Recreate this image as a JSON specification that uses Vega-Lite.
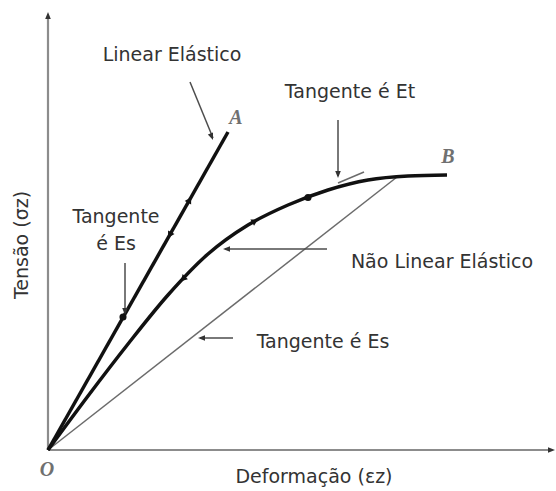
{
  "$schema": "https://vega.github.io/schema/vega-lite/v6.json",
  "width": 508,
  "height": 450,
  "autosize": "none",
  "padding": {"left": 48, "top": 0, "right": 0, "bottom": 41},
  "background": "white",
  "config": {"view": {"stroke": null}},
  "encoding": {
    "x": {"field": "x", "type": "quantitative", "scale": {"domain": [0, 508], "nice": false, "zero": false}, "axis": null},
    "y": {"field": "y", "type": "quantitative", "scale": {"domain": [0, 450], "nice": false, "zero": false}, "axis": null}
  },
  "layer": [
    {
      "data": {"values": [
        {"x": 0, "y": 0, "x2": 349, "y2": 273},
        {"x": 290, "y": 267, "x2": 316, "y2": 278}
      ]},
      "mark": {"type": "rule", "color": "#6b6b6b", "strokeWidth": 1.5},
      "encoding": {"x2": {"field": "x2"}, "y2": {"field": "y2"}}
    },
    {
      "data": {"values": [
        {"x": 0, "y": 0, "x2": 0, "y2": 434},
        {"x": 0, "y": 0, "x2": 502, "y2": 0}
      ]},
      "mark": {"type": "rule", "color": "#8c8c8c", "strokeWidth": 2.2},
      "encoding": {"x2": {"field": "x2"}, "y2": {"field": "y2"}}
    },
    {
      "data": {"values": [
        {"x": 142, "y": 368, "x2": 165, "y2": 312},
        {"x": 290, "y": 330, "x2": 290, "y2": 274},
        {"x": 77, "y": 187, "x2": 77, "y2": 137},
        {"x": 279, "y": 201, "x2": 177, "y2": 201},
        {"x": 185, "y": 112, "x2": 152, "y2": 112}
      ]},
      "mark": {"type": "rule", "color": "#4d4d4d", "strokeWidth": 1.5},
      "encoding": {"x2": {"field": "x2"}, "y2": {"field": "y2"}}
    },
    {
      "data": {"values": [
        {"x": 0, "y": 0, "x2": 180, "y2": 318}
      ]},
      "mark": {"type": "rule", "color": "#111111", "strokeWidth": 3.5},
      "encoding": {"x2": {"field": "x2"}, "y2": {"field": "y2"}}
    },
    {
      "data": {"values": [
        {"x": 0, "y": 0},
        {"x": 40, "y": 54},
        {"x": 80, "y": 106},
        {"x": 120, "y": 155},
        {"x": 160, "y": 196},
        {"x": 200, "y": 225},
        {"x": 240, "y": 245},
        {"x": 280, "y": 260},
        {"x": 320, "y": 270},
        {"x": 360, "y": 274},
        {"x": 399, "y": 275}
      ]},
      "mark": {"type": "line", "color": "#111111", "strokeWidth": 3.5, "interpolate": "monotone"},
      "encoding": {"order": {"field": "x", "type": "quantitative"}}
    },
    {
      "data": {"values": [
        {"x": 165, "y": 310, "bearing": 158.4},
        {"x": 290, "y": 272, "bearing": 180},
        {"x": 77, "y": 135, "bearing": 180},
        {"x": 175, "y": 201, "bearing": 270},
        {"x": 150, "y": 112, "bearing": 270},
        {"x": 0, "y": 438, "bearing": 0},
        {"x": 507, "y": 0, "bearing": 90}
      ]},
      "mark": {"type": "point", "shape": "M0,0L-0.8,2L0.8,2Z", "filled": true, "opacity": 1, "color": "#333333", "size": 49},
      "encoding": {"angle": {"field": "bearing", "type": "quantitative", "scale": null}}
    },
    {
      "data": {"values": [
        {"x": 141.5, "y": 250, "bearing": 29.5},
        {"x": 121.7, "y": 215, "bearing": 209.5},
        {"x": 207, "y": 229, "bearing": 60},
        {"x": 135, "y": 171, "bearing": 225}
      ]},
      "mark": {"type": "point", "shape": "triangle-up", "filled": true, "opacity": 1, "color": "#111111", "size": 55},
      "encoding": {"angle": {"field": "bearing", "type": "quantitative", "scale": null}}
    },
    {
      "data": {"values": [
        {"x": 75, "y": 133},
        {"x": 260, "y": 252.5}
      ]},
      "mark": {"type": "circle", "color": "#111111", "opacity": 1, "size": 50}
    },
    {
      "data": {"values": [
        {"label": "Linear Elástico", "x": 124, "y": 395},
        {"label": "Tangente é Et", "x": 302, "y": 358},
        {"label": "Tangente", "x": 68, "y": 233},
        {"label": "é Es", "x": 68, "y": 206},
        {"label": "Não Linear Elástico", "x": 394, "y": 188},
        {"label": "Tangente é Es", "x": 275, "y": 108},
        {"label": "Deformação (εz)", "x": 266, "y": -27}
      ]},
      "mark": {"type": "text", "font": "DejaVu Sans", "fontSize": 19, "color": "#333333", "align": "center", "baseline": "middle"},
      "encoding": {"text": {"field": "label"}}
    },
    {
      "data": {"values": [
        {"label": "Tensão (σz)", "x": -26, "y": 205}
      ]},
      "mark": {"type": "text", "font": "DejaVu Sans", "fontSize": 19, "color": "#333333", "align": "center", "baseline": "middle", "angle": 270},
      "encoding": {"text": {"field": "label"}}
    },
    {
      "data": {"values": [
        {"label": "A", "x": 188, "y": 332},
        {"label": "B", "x": 400, "y": 293},
        {"label": "O", "x": -1, "y": -20}
      ]},
      "mark": {"type": "text", "font": "Liberation Serif", "fontStyle": "italic", "fontWeight": "bold", "fontSize": 20, "color": "#707070", "align": "center", "baseline": "middle"},
      "encoding": {"text": {"field": "label"}}
    }
  ]
}
